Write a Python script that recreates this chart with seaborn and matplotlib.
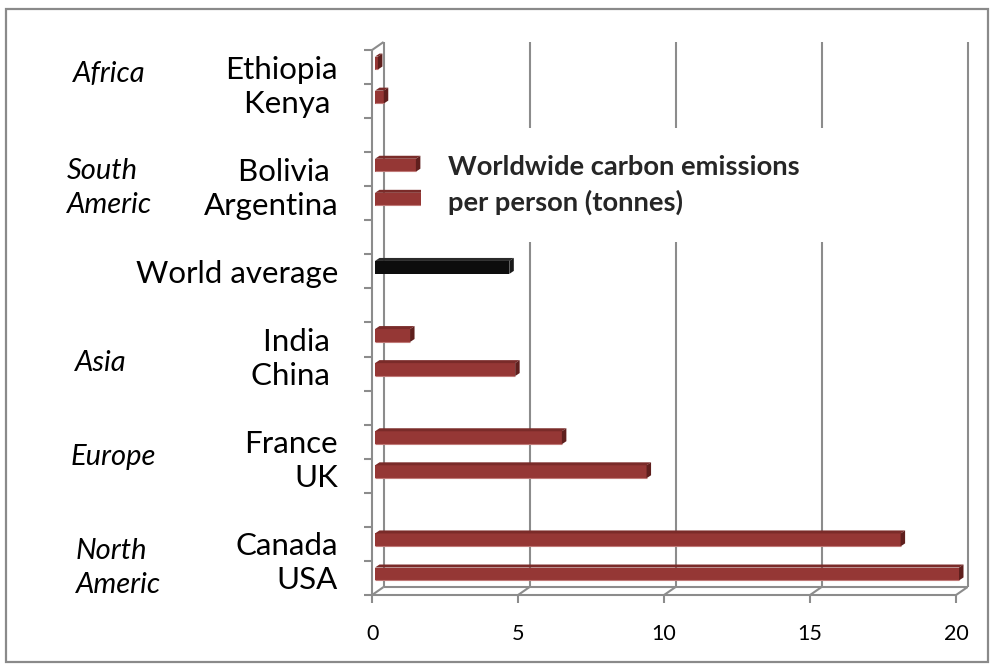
import numpy as np
import pandas as pd
import matplotlib
matplotlib.use("Agg")
import matplotlib.pyplot as plt
import matplotlib.transforms as mtransforms
from matplotlib.lines import Line2D
from matplotlib.patches import Polygon, Rectangle
import seaborn as sns

# Rows of the chart, top to bottom; blank rows separate the regions
categories = ["Ethiopia", "Kenya ", "", "Bolivia ", "Argentina", "",
              "World average", "", "India ", "China ", "",
              "France", "UK", "", "Canada", "USA"]
emissions = [0.1, 0.3, np.nan, 1.4, 1.8, np.nan,
             4.6, np.nan, 1.2, 4.8, np.nan,
             6.4, 9.3, np.nan, 18.0, 20.0]
regions = ["Africa", "South\nAmeric", "Asia", "Europe", "North\nAmeric"]
x_ticks = [0, 5, 10, 15, 20]
title = "Worldwide carbon emissions\nper person (tonnes)"

sns.set_style("white")
plt.rcParams["font.family"] = ["Lato", "DejaVu Sans"]

W, H = 994, 666
fig = plt.figure(figsize=(W / 100, H / 100), dpi=100)
fig.patch.set_facecolor("white")

# outer chart border
fig.add_artist(Rectangle((6 / W, 4 / H), 982 / W, 653 / H, transform=fig.transFigure,
                         fill=False, edgecolor="#8a8a8a", lw=1.6))

ax = fig.add_axes([375 / W, 1 - 595 / H, 584 / W, 545 / H])

df = pd.DataFrame({"row": np.arange(len(categories)), "country": categories,
                   "value": emissions}).dropna()
bar_red = "#953735"
palette = {c: ("#0d0d0d" if c == "World average" else bar_red) for c in df["country"]}
sns.barplot(data=df, x="value", y="row", hue="country", palette=palette,
            orient="h", native_scale=True, dodge=False, width=0.38,
            legend=False, saturation=1, linewidth=0, ax=ax, zorder=2)

Y_TOP, Y_BOT = -0.383, len(categories) - 0.5 + 0.117
ax.set_xlim(0, 20)
ax.set_ylim(Y_BOT, Y_TOP)
ax.axis("off")

ident = mtransforms.IdentityTransform()
X0 = -0.1             # data position of the front frame's zero line
BACK = (11.5, 8.0)    # depth of the walls, in pixels
DEPTH = (4.5, 3.0)    # depth of each bar, in pixels
frame_c = "#8c8c8c"


def P(x, y):
    return ax.transData.transform((x, y))


def seg(p, q, z=0.5, c=frame_c, lw=1.5):
    ax.add_line(Line2D([p[0], q[0]], [p[1], q[1]], transform=ident, color=c,
                       lw=lw, clip_on=False, zorder=z, solid_capstyle="butt"))


def off(p, d=BACK):
    return (p[0] + d[0], p[1] + d[1])


# left wall
fl_top, fl_bot = P(X0, Y_TOP), P(X0, Y_BOT)
seg(fl_bot, fl_top)
seg(fl_top, off(fl_top))
# back-wall gridlines (the first one is the wall's back edge)
for v in x_ticks:
    b, t = P(v + X0, Y_BOT), P(v + X0, Y_TOP)
    seg(off(b), off(t))
# floor
fr_bot = P(x_ticks[-1] + X0, Y_BOT)
seg(fl_bot, fr_bot)
seg(off(fl_bot), off(fr_bot))
for v in x_ticks:
    p = P(v + X0, Y_BOT)
    seg(p, off(p))
    seg(p, (p[0], p[1] - 8))
    ax.text(p[0], p[1] - 39, f"{v}", transform=ident, ha="center", va="center",
            fontsize=15.5, color="#000000")
# category boundary ticks
for k in range(len(categories) + 1):
    p = P(X0, Y_TOP + k)
    seg(p, (p[0] - 8, p[1]))

# 3-D faces of the bars
for patch in ax.patches:
    if not np.isfinite(patch.get_width()) or patch.get_width() <= 0:
        continue
    x0, y0 = patch.get_x(), patch.get_y()
    x1, y1 = x0 + patch.get_width(), y0 + patch.get_height()
    face = patch.get_facecolor()
    dark = face[0] < 0.2
    top_c = "#2a2a2a" if dark else "#7a2b29"
    side_c = "#1a1a1a" if dark else "#5f1f1d"
    a, b = P(x0, y0), P(x1, y0)       # upper edge of the front face (y inverted)
    c = P(x1, y1)                     # lower right corner
    ax.add_patch(Polygon([a, b, off(b, DEPTH), off(a, DEPTH)], closed=True,
                         transform=ident, facecolor=top_c, lw=0, zorder=2.1, clip_on=False))
    ax.add_patch(Polygon([b, c, off(c, DEPTH), off(b, DEPTH)], closed=True,
                         transform=ident, facecolor=side_c, lw=0, zorder=2.1, clip_on=False))
    if not dark:
        l = P(x0, y1)
        seg((l[0], l[1] + 0.5), (c[0], c[1] + 0.5), z=2.2, c="#c07a78", lw=0.8)

# category labels
for i, name in enumerate(categories):
    if not name:
        continue
    p = P(X0, i + 0.19)
    ax.text(p[0] - 34, p[1], name, transform=ident, ha="right", va="center",
            fontsize=22.5, color="#000000")

# region labels (left edge in px, vertical centre in px)
region_xy = [(73, 74), (67, 188), (75, 363), (71, 457), (76, 568)]
for name, (px, py) in zip(regions, region_xy):
    fig.text(px / W, 1 - py / H, name, ha="left", va="center", fontsize=21,
             style="italic", linespacing=1.42, color="#000000")

# title box over the gridlines
ax.text(448, H - 185, title, transform=ident, ha="left", va="center",
        fontsize=19.7, fontweight="bold", linespacing=1.5, zorder=3,
        bbox=dict(boxstyle="square,pad=1.0", facecolor="white", edgecolor="none"))

fig.savefig("out.png", dpi=100, facecolor="white")
